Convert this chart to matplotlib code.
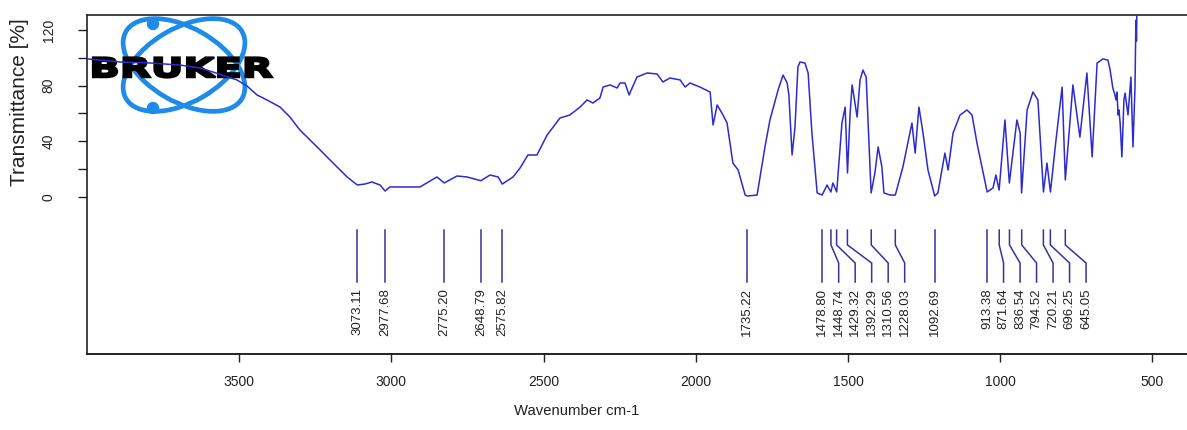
import matplotlib
matplotlib.use("Agg")
import matplotlib.pyplot as plt
from matplotlib.patches import Ellipse, Circle, PathPatch
from matplotlib.textpath import TextPath
from matplotlib.font_manager import FontProperties
from matplotlib.transforms import Affine2D

plt.rcParams['font.family'] = ['Liberation Sans', 'DejaVu Sans']

# ---------------- data ----------------
wavenumber = [3997, 3887, 3784, 3681, 3612, 3568, 3527, 3486, 3451, 3417, 3383, 3338, 3304, 3270,
              3211, 3156, 3108, 3073, 3047, 3023, 2995, 2978, 2961, 2927, 2858, 2800, 2775, 2731,
              2697, 2649, 2618, 2590, 2576, 2539, 2515, 2488, 2457, 2422, 2378, 2344, 2309, 2285,
              2265, 2241, 2230, 2206, 2182, 2172, 2155, 2141, 2114, 2079, 2045, 2025, 2001, 1966,
              1949, 1932, 1898, 1863, 1853, 1839, 1819, 1805, 1785, 1767, 1743, 1735, 1702, 1675,
              1658, 1630, 1613, 1599, 1593, 1582, 1572, 1562, 1555, 1538, 1527, 1514, 1496, 1479,
              1462, 1449, 1442, 1429, 1411, 1400, 1392, 1383, 1376, 1359, 1349, 1339, 1328, 1311,
              1298, 1287, 1274, 1267, 1246, 1228, 1202, 1171, 1160, 1147, 1133, 1116, 1093, 1082,
              1058, 1047, 1030, 1006, 982, 965, 948, 931, 913, 893, 883, 872, 852, 837, 811, 800,
              795, 776, 756, 739, 720, 708, 696, 677, 656, 645, 619, 595, 571, 553, 536, 516, 499,
              492, 482, 475, 471, 468, 464, 461, 457, 451, 444, 440, 430, 420, 413, 406, 403, 401, 399]
transmittance = [99.1, 96.9, 96.2, 94.7, 92.6, 89.7, 86.8, 84.0, 79.6, 73.2, 69.6, 64.5, 57.3, 48.0,
                 35.8, 24.2, 14.2, 8.4, 9.1, 10.6, 8.4, 4.1, 7.0, 7.0, 7.0, 14.2, 9.9, 14.9,
                 14.2, 11.5, 15.6, 14.2, 9.1, 14.2, 20.6, 30.0, 30.0, 44.4, 56.6, 58.8, 64.5, 69.6,
                 67.4, 71.0, 78.9, 80.4, 78.2, 81.8, 81.8, 73.2, 86.1, 89.0, 88.3, 82.5, 85.4, 84.0,
                 78.9, 81.8, 78.9, 75.3, 51.6, 66.0, 58.8, 53.0, 24.2, 19.2, 1.2, 0.5, 1.2, 35.8,
                 55.2, 76.8, 87.5, 81.8, 73.2, 30.0, 50.1, 93.3, 96.9, 96.2, 89.0, 45.8, 2.7, 1.2,
                 8.4, 3.4, 9.9, 3.4, 53.0, 64.5, 17.1, 60.2, 80.4, 57.3, 83.9, 91.1, 86.1, 2.7,
                 17.1, 35.8, 21.4, 2.7, 1.2, 1.2, 21.4, 53.0, 31.4, 64.5, 45.8, 19.2, 0.5, 2.7,
                 31.4, 19.2, 45.8, 58.8, 62.4, 58.8, 38.6, 21.4, 3.4, 6.3, 15.6, 4.8, 55.2, 9.9, 55.2, 45.8,
                 2.7, 62.4, 75.3, 69.6, 3.4, 24.2, 3.4, 40.8, 78.9, 12.0, 80.4, 42.9, 89.0, 28.6, 96.2, 99.1, 98.3,
                 91.9, 78.2, 73.2, 69.6, 75.3, 58.8, 62.4, 53.0, 28.6, 69.6, 74.6, 58.8, 86.1, 35.8, 78.9, 127, 112, 140]

peaks = [3073.11, 2977.68, 2775.20, 2648.79, 2575.82, 1735.22, 1478.80, 1448.74, 1429.32,
         1392.29, 1310.56, 1228.03, 1092.69, 913.38, 871.64, 836.54, 794.52, 720.21, 696.25, 645.05]

x_ticks = [3500, 3000, 2500, 2000, 1500, 1000, 500]
y_ticks = [0, 20, 40, 60, 80, 100, 120]
y_ticklabels = ['0', '', '40', '', '80', '', '120']

# ---------------- layout ----------------
W, H = 1187, 430
fig = plt.figure(figsize=(W / 100, H / 100), dpi=100)
fig.patch.set_facecolor('white')

# logo layer (behind the plot)
lax = fig.add_axes([0, 0, 1, 1], zorder=0)
lax.set_xlim(0, W)
lax.set_ylim(H, 0)
lax.axis('off')
logo_blue = '#1f8be8'
for ang in (30, -30):
    lax.add_patch(Ellipse((184, 65), 134, 74, angle=ang, fill=False,
                          edgecolor=logo_blue, lw=3.4))
for cy in (24, 108):
    lax.add_patch(Circle((153, cy), 5.5, color=logo_blue))
tp = TextPath((0, 0), 'BRUKER', size=40,
              prop=FontProperties(family='DejaVu Sans', weight='heavy'))
bb = tp.get_extents()
tr = Affine2D().translate(-bb.x0, -bb.y0).scale(179 / bb.width, -20 / bb.height).translate(93, 77.5)
lax.add_patch(PathPatch(tr.transform_path(tp), facecolor='black', edgecolor='black', lw=1.6))

# main axes
left, right, top, bottom = 87, 1187, 14.7, 354
ax = fig.add_axes([left / W, (H - bottom) / H, (right - left) / W, (bottom - top) / H], zorder=1)
ax.patch.set_alpha(0)

data_px_per_unit = 0.2916
ax.set_xlim(4000, 4000 - (right - left) / data_px_per_unit)
y_px_per_unit = 1.39
ax.set_ylim(-(bottom - 196.7) / y_px_per_unit, (196.7 - top) / y_px_per_unit)

ax.plot(wavenumber, transmittance, color='#2b2bd0', lw=1.1, zorder=3)

# peak markers with spread labels
peak_col = '#34349f'
min_gap = 16.5 / data_px_per_unit
label_pos = []
for p in peaks:
    pos = p if not label_pos else min(p, label_pos[-1] - min_gap)
    label_pos.append(pos)
for p, lp in zip(peaks, label_pos):
    ax.plot([p, p, lp, lp], [-24, -34.7, -47.7, -61.4], color=peak_col, lw=1.1, zorder=3)
    ax.text(lp, -65.7, f'{p:.2f}', rotation=90, ha='center', va='top',
            fontsize=9.5, color='#222222')

for s in ('top', 'bottom', 'left'):
    ax.spines[s].set_linewidth(1.2)
    ax.spines[s].set_color('#222222')
ax.spines['right'].set_visible(False)

ax.set_yticks(y_ticks)
ax.set_yticklabels(y_ticklabels)
ax.tick_params(axis='y', direction='out', length=6.5, width=1, pad=16, labelsize=10,
               colors='#222222')
for lab in ax.get_yticklabels():
    lab.set_rotation(90)
    lab.set_va('center')
ax.tick_params(axis='x', bottom=False, labelbottom=False)

ax.set_ylabel('Transmittance [%]', fontsize=15, color='#222222', va='center')
ax.yaxis.set_label_coords((20 - left) / (right - left), (bottom - 102) / (bottom - top))
ax.set_xlabel('Wavenumber cm-1', fontsize=10.7, color='#222222')
ax.xaxis.set_label_coords((577 - left) / (right - left), (bottom - 404) / (bottom - top))

# axis ticks (as drawn in the reference, on their own scale)
tick_px_per_unit = 0.3044
r = data_px_per_unit / tick_px_per_unit
sec = ax.secondary_xaxis('bottom', functions=(lambda w: 4000 - (4000 - w) * r,
                                                lambda l: 4000 - (4000 - l) / r))
sec.set_xticks(x_ticks)
sec.tick_params(axis='x', direction='out', length=6, width=1, pad=9, labelsize=10,
                colors='#222222')
sec.spines['bottom'].set_linewidth(1.2)
sec.spines['bottom'].set_color('#222222')

fig.savefig('out.png', dpi=100)
